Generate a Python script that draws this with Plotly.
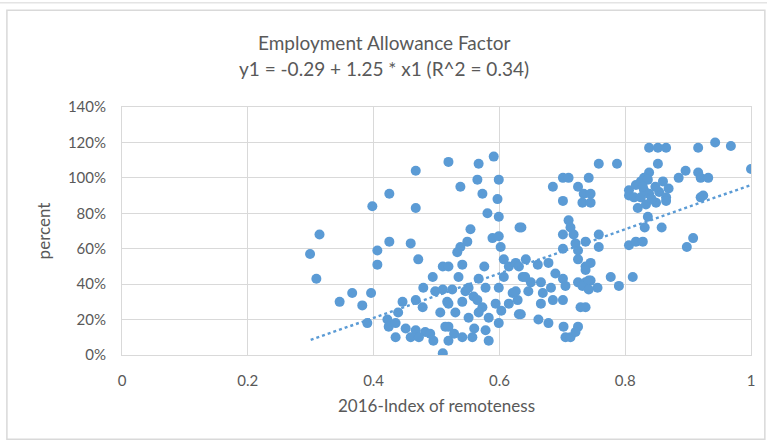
import plotly.graph_objects as go

# 2016 index of remoteness per area
remoteness = [
    0.299, 0.309, 0.314, 0.346, 0.366, 0.382, 0.390, 0.396, 0.398, 0.406, 0.406,
    0.519, 0.467, 0.425, 0.467, 0.425, 0.459, 0.471, 0.510, 0.494, 0.479, 0.446,
    0.439, 0.422, 0.424, 0.435, 0.451, 0.467, 0.478, 0.467, 0.482, 0.498, 0.510,
    0.506, 0.495, 0.510, 0.517, 0.514, 0.459, 0.435,
    0.591, 0.567, 0.538, 0.565, 0.599, 0.573, 0.597, 0.581, 0.599, 0.632, 0.554,
    0.549, 0.538, 0.533, 0.589, 0.599, 0.602, 0.607, 0.519, 0.541, 0.576, 0.535,
    0.567, 0.615, 0.607, 0.626, 0.525, 0.551, 0.578, 0.599, 0.621, 0.519, 0.541,
    0.559, 0.573, 0.594, 0.615, 0.629, 0.530, 0.551, 0.567, 0.583, 0.599, 0.631,
    0.519, 0.541, 0.557, 0.578, 0.583, 0.519, 0.565, 0.546,
    0.701, 0.710, 0.685, 0.725, 0.742, 0.701, 0.734, 0.732, 0.635, 0.710, 0.713,
    0.701, 0.718, 0.721, 0.701, 0.725, 0.725, 0.642, 0.631, 0.661, 0.678, 0.689,
    0.637, 0.701, 0.650, 0.666, 0.682, 0.705, 0.725, 0.737, 0.737, 0.626, 0.646,
    0.669, 0.685, 0.701, 0.666, 0.732, 0.729, 0.634, 0.662, 0.678, 0.702, 0.725,
    0.705, 0.713, 0.721, 0.742,
    0.838, 0.852, 0.865, 0.758, 0.787, 0.852, 0.838, 0.830, 0.745, 0.745, 0.806,
    0.817, 0.825, 0.836, 0.860, 0.806, 0.814, 0.825, 0.838, 0.854, 0.865, 0.820,
    0.833, 0.849, 0.836, 0.830, 0.831, 0.858, 0.758, 0.758, 0.806, 0.817, 0.828,
    0.737, 0.745, 0.737, 0.745, 0.756, 0.777, 0.790, 0.812, 0.742, 0.737,
    0.916, 0.943, 0.968, 1.000, 0.896, 0.916, 0.885, 0.920, 0.932, 0.869, 0.920,
    0.924, 0.865, 0.908, 0.898,
    0.472, 0.490, 0.528, 0.560, 0.603, 0.641, 0.828, 0.842, 0.848,
]

# Employment allowance factor, in percent
allowance_pct = [
    57, 43, 68, 30, 35, 28, 18, 35, 84, 59, 51,
    109, 104, 91, 83, 64, 63, 54, 50, 44, 38, 30,
    24, 20, 16, 10, 15, 31, 27, 14, 13, 36, 37,
    24, 8, 1, 30, 16, 10, 18,
    112, 108, 95, 99, 99, 91, 88, 80, 78, 72, 71,
    64, 61, 58, 66, 67, 61, 54, 50, 51, 50, 44,
    43, 50, 44, 52, 37, 38, 38, 38, 35, 29, 30,
    33, 27, 29, 29, 31, 24, 21, 24, 21, 18, 23,
    16, 10, 10, 14, 8, 8, 31, 36,
    100, 100, 95, 95, 100, 87, 91, 86, 72, 76, 72,
    68, 68, 63, 60, 59, 54, 54, 50, 51, 52, 46,
    44, 43, 41, 41, 38, 39, 41, 41, 50, 36, 36,
    35, 31, 31, 29, 39, 27, 23, 20, 18, 16, 16,
    10, 10, 13, 42,
    117, 117, 117, 108, 108, 108, 103, 100, 91, 86, 93,
    96, 98, 99, 98, 90, 89, 89, 91, 92, 89, 83,
    85, 86, 78, 93, 72, 72, 68, 61, 62, 64, 64,
    64, 52, 48, 42, 38, 44, 39, 44, 37, 27,
    117, 120, 118, 105, 104, 103, 100, 100, 100, 94, 89,
    90, 87, 66, 61,
    10, 12, 12, 15, 25, 44, 95, 88, 95,
]

# Linear trend: y1 = -0.29 + 1.25 * x1
trend_intercept = -0.29
trend_slope = 1.25
trend_x = [0.3, 1.0]

title_lines = ["Employment Allowance Factor", "y1 = -0.29 + 1.25 * x1 (R^2 = 0.34)"]
x_title = "2016-Index of remoteness"
y_title = "percent"

blue = "#5B9BD5"
text_grey = "#595959"
grid_grey = "#D9D9D9"
font_family = "Lato, 'Open Sans', sans-serif"

fig = go.Figure()

fig.add_trace(go.Scatter(
    x=remoteness,
    y=[v / 100 for v in allowance_pct],
    mode="markers",
    marker=dict(color=blue, size=10, line=dict(width=0)),
    showlegend=False,
    hoverinfo="x+y",
))

fig.add_trace(go.Scatter(
    x=trend_x,
    y=[trend_intercept + trend_slope * x for x in trend_x],
    mode="lines",
    line=dict(color=blue, width=2.4, dash="dot"),
    showlegend=False,
    hoverinfo="skip",
))

axis_common = dict(
    showgrid=True,
    gridcolor=grid_grey,
    gridwidth=1,
    zeroline=False,
    showline=True,
    linecolor=grid_grey,
    linewidth=1,
    mirror=True,
    ticks="",
    tickfont=dict(family=font_family, size=15, color=text_grey),
    title_font=dict(family=font_family, size=17, color=text_grey),
)

fig.update_xaxes(
    range=[0, 1],
    dtick=0.2,
    tick0=0,
    ticklabelstandoff=12,
    title_text=x_title,
    title_standoff=12,
    **axis_common,
)
fig.update_yaxes(
    range=[0, 1.4],
    dtick=0.2,
    tick0=0,
    tickformat=".0%",
    ticklabelstandoff=12,
    title_text=y_title,
    title_standoff=12,
    **axis_common,
)

# Chart frame around the whole figure
fig.add_shape(
    type="rect", xref="paper", yref="paper",
    x0=-0.183, x1=1.022, y0=-0.34, y1=1.39,
    line=dict(color=grid_grey, width=1.5), fillcolor="rgba(0,0,0,0)",
    layer="below",
)
fig.add_shape(
    type="line", xref="paper", yref="paper",
    x0=-0.2, x1=1.03, y0=1.42, y1=1.42,
    line=dict(color="#E4E4E4", width=1.5),
)

# Two-line chart title, centred on the figure
for text, y in zip(title_lines, [1.262, 1.157]):
    fig.add_annotation(
        text=text, xref="paper", yref="paper",
        x=0.416, y=y, xanchor="center", yanchor="middle",
        showarrow=False,
        font=dict(family=font_family, size=19, color=text_grey),
    )

fig.update_layout(
    width=767,
    height=442,
    margin=dict(l=122, r=16, t=107, b=87),
    paper_bgcolor="white",
    plot_bgcolor="white",
)

fig.write_html("out.html")
